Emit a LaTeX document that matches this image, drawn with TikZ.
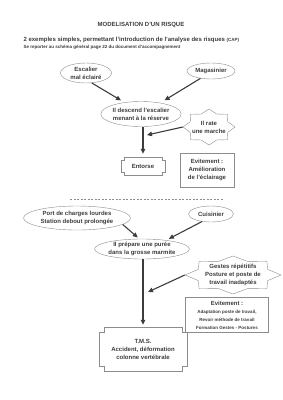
\documentclass[tikz,border=0pt]{standalone}
\usepackage{fontspec}
\setmainfont{Liberation Sans}
\usetikzlibrary{shapes.geometric,arrows.meta}

\definecolor{inkgray}{HTML}{3C3C3C}
\definecolor{framegray}{HTML}{8C8C8C}

\tikzset{
  every node/.style={text=inkgray, align=center, font=\fontsize{6}{8}\selectfont\bfseries},
  oval/.style={ellipse, draw=framegray, inner sep=0pt},
  burst/.style={rectangle, inner sep=0pt},
  framebox/.style={rectangle, draw=framegray, inner sep=0pt},
  notched/.style={rectangle, inner sep=0pt},
  link/.style={draw=inkgray, line width=1.1pt, -{Triangle[length=5pt,width=4.5pt]}},
}

\newcommand{\fine}{\fontsize{4.5}{5.5}\selectfont}

% frame with square notches cut at the corners (y runs down)
\newcommand{\notchframe}[2]{%
  \draw[framegray] ([xshift=#2pt]#1.north west) -- ([xshift=-#2pt]#1.north east)
    -- ++(0,#2) -- ++(#2,0) -- ([yshift=#2pt]#1.south east) -- ++(-#2,0)
    -- ++(0,#2) -- ([xshift=#2pt]#1.south west) -- ++(0,-#2) -- ++(-#2,0)
    -- ([yshift=-#2pt]#1.north west) -- ++(#2,0) -- cycle;}

% eight-pointed star round a node: name, half width, half height
\newcommand{\starframe}[3]{%
  \draw[framegray, shift={(#1.center)}] plot[samples at={0,22.5,...,337.5}]
    ({#2*cos(\x)*(1-0.22*mod(round(\x/22.5),2))}, {#3*sin(\x)*(1-0.22*mod(round(\x/22.5),2))}) -- cycle;}

\begin{document}
\begin{tikzpicture}[x=1pt,y=-1pt]
  \useasboundingbox (0,0) rectangle (283,400);

  % Heading
  \node (title) at (141,25) {MODELISATION D'UN RISQUE};
  \node[anchor=base west] (intro) at (20,41)
    {2 exemples simples, permettant l'introduction de l'analyse des risques \fine(CAP)};
  \node[anchor=base west, font=\fine\bfseries] (note) at (20,48)
    {Se reporter au schéma général page 22 du document d'accompagnement};

  % First example
  \node[oval, minimum width=51pt, minimum height=20pt] (stairs) at (86,73) {Escalier\\mal éclairé};
  \node[oval, minimum width=48pt, minimum height=16pt] (storeman) at (211,71) {Magasinier};
  \node[oval, minimum width=78pt, minimum height=25pt] (descent) at (141,114) {Il descend l'escalier\\menant à la réserve};
  \node[burst, minimum width=52pt, minimum height=36pt] (misstep) at (209,127) {Il rate\\une marche};
  \starframe{misstep}{26}{18}
  \node[notched, minimum width=43pt, minimum height=18pt] (sprain) at (143,166) {Entorse};
  \notchframe{sprain}{3}
  \node[framebox, minimum width=54pt, minimum height=34pt] (fix1) at (207,170) {Evitement :\\Amélioration\\de l'éclairage};
  \coordinate (hit1) at (147,135);

  \draw[link, shorten >=4pt] (stairs.-60) -- (descent.145);
  \draw[link, shorten >=5pt] (storeman.215) -- (descent.30);
  \draw[link, shorten >=3pt] (descent.south -| sprain.north) -- (sprain.north);
  \draw[link] (misstep.west) -- (hit1);

  % Separator
  \draw[framegray, dash pattern=on 2pt off 1.5pt] (70,199) -- (223,199);

  % Second example
  \node[oval, minimum width=107pt, minimum height=24pt] (loads) at (77,218) {Port de charges lourdes\\Station debout prolongée};
  \node[oval, minimum width=45pt, minimum height=16pt] (cook) at (211,214) {Cuisinier};
  \node[oval, minimum width=92pt, minimum height=20pt] (puree) at (142,249) {Il prépare une purée\\dans la grosse marmite};
  \node[burst, minimum width=96pt, minimum height=38pt] (gestures) at (233,275) {Gestes répétitifs\\Posture et poste de\\travail inadaptés};
  \starframe{gestures}{48}{19}
  \node[framebox, minimum width=83pt, minimum height=35pt] (fix2) at (227,315)
    {Evitement :\\{\fine Adaptation poste de travail,}\\{\fine Revoir méthode de travail}\\{\fine Formation Gestes - Postures}};
  \node[notched, minimum width=88pt, minimum height=44pt] (tms) at (143,349) {T.M.S.\\Accident, déformation\\colonne vertébrale};
  \notchframe{tms}{5}
  \coordinate (hit2) at (148,292);

  \draw[link, shorten >=2pt] (loads.-8) -- (puree.105);
  \draw[link, shorten >=3pt] (cook.220) -- (puree.20);
  \draw[link, shorten >=2pt] (puree.south -| tms.north) -- (tms.north);
  \draw[link] (gestures.west) -- (hit2);
\end{tikzpicture}
\end{document}
